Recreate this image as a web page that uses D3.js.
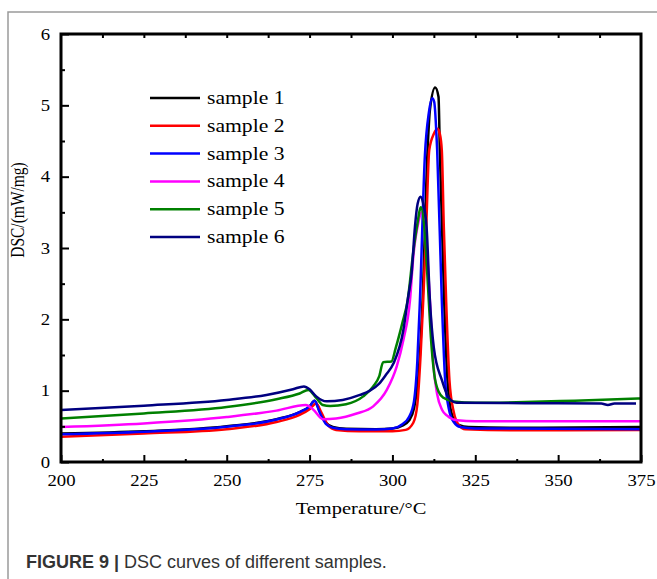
<!DOCTYPE html>
<html>
<head>
<meta charset="utf-8">
<script src="https://cdn.jsdelivr.net/npm/d3@7"></script>
<style>
  html, body { margin: 0; padding: 0; background: #fff; }
  svg { display: block; }
  .serif { font-family: "Liberation Serif", "Times New Roman", serif; fill: #000; }
</style>
</head>
<body>
<div id="chart"></div>
<script>
// DSC curves, [temperature °C, DSC mW/mg]
var sample1 = [[200,0.40],[225,0.43],[250,0.50],[265,0.60],[272,0.70],[275,0.78],[276.5,0.86],[278,0.72],[280,0.55],[282,0.49],[286,0.465],[295,0.46],[300,0.47],[303,0.51],[305,0.58],[306.5,0.75],[308,1.3],[309.1,2.27],[310.6,4.37],[311.3,4.93],[312.9,5.25],[313.9,5.12],[314.3,4.37],[315.6,2.27],[316.6,1.15],[318,0.66],[320,0.52],[323,0.49],[340,0.48],[375,0.49]];
var sample2 = [[200,0.355],[225,0.40],[250,0.46],[265,0.56],[272,0.66],[275,0.74],[277,0.82],[278.5,0.70],[280.5,0.52],[283,0.45],[290,0.43],[300,0.43],[304,0.45],[306.3,0.55],[307.5,0.8],[308.5,1.5],[309.3,2.27],[310.2,3.3],[311.1,4.37],[312.5,4.6],[313.6,4.67],[314.3,4.6],[314.9,4.37],[315.5,3.3],[316.2,2.27],[317.2,1.15],[318.5,0.7],[320,0.52],[322,0.46],[340,0.445],[375,0.45]];
var sample3 = [[200,0.39],[225,0.425],[250,0.495],[265,0.595],[272,0.70],[275,0.78],[276.5,0.86],[278,0.70],[280,0.53],[282,0.48],[286,0.46],[295,0.455],[300,0.47],[303,0.53],[305,0.63],[306.5,0.85],[307.5,1.4],[308.3,2.27],[309.8,4.3],[311,4.9],[312,5.1],[312.6,5.05],[313.5,4.37],[314.9,2.27],[315.9,1.15],[317,0.75],[318.5,0.56],[320.5,0.49],[325,0.47],[375,0.46]];
var sample4 = [[200,0.49],[225,0.54],[250,0.63],[265,0.72],[273.9,0.80],[276,0.74],[279.1,0.60],[283,0.61],[289.2,0.68],[294.2,0.78],[298.3,1.01],[301.3,1.34],[303.3,1.71],[305.3,2.27],[306.3,2.88],[307.8,3.35],[308.8,3.5],[310,3.2],[311.3,2.27],[312.3,1.4],[313.5,0.95],[315,0.73],[316.5,0.65],[319.5,0.585],[325,0.57],[375,0.57]];
var sample5 = [[200,0.61],[225,0.68],[250,0.77],[265,0.88],[272,0.96],[274.6,1.01],[277,0.90],[279,0.80],[281.2,0.785],[286,0.81],[291.2,0.92],[294.2,1.06],[296,1.2],[297.2,1.40],[299.7,1.41],[301,1.6],[303,1.95],[304.6,2.27],[306.3,2.95],[307.4,3.3],[308.6,3.57],[309.6,3.3],[310.8,2.4],[311.6,1.75],[312.6,1.24],[314,0.98],[315.4,0.9],[318.4,0.85],[325,0.83],[340,0.84],[355,0.86],[375,0.89]];
var sample6 = [[200,0.73],[225,0.79],[250,0.87],[262,0.94],[270,1.02],[273.3,1.06],[275,1.02],[277,0.92],[280.2,0.85],[285,0.87],[290.2,0.94],[293.2,1.0],[296,1.1],[298,1.22],[300.3,1.38],[303.3,1.85],[304.7,2.3],[305.8,2.65],[306.8,3.3],[307.6,3.62],[308.5,3.72],[309.3,3.62],[310.3,3.3],[311.3,2.27],[312.5,1.6],[314.9,1.15],[317,0.9],[319.4,0.83],[340,0.825],[363,0.82],[365,0.80],[367,0.82],[373.5,0.82]];

var series_names  = ['sample 1', 'sample 2', 'sample 3', 'sample 4', 'sample 5', 'sample 6'];
var series_data   = [sample1, sample2, sample3, sample4, sample5, sample6];
var series_colors = ['#000000', '#ff0000', '#0000ff', '#ff00ff', '#008000', '#000080'];

var x_ticks = [200, 225, 250, 275, 300, 325, 350, 375];
var y_ticks = [0, 1, 2, 3, 4, 5, 6];

// chart params
var width = 657, height = 579;
var plot_left = 61, plot_right = 641, plot_top = 34, plot_bottom = 462;
var stretch = 1.17; // the original figure is a bit wider than tall

var svg = d3.select('#chart')
    .append('svg')
    .attr('width', width)
    .attr('height', height);

// gray page frame (top and left)
svg.append('path')
    .attr('d', 'M8,' + height + 'V12H' + width)
    .attr('fill', 'none')
    .attr('stroke', '#9a9a9a')
    .attr('stroke-width', 1.5);

var x_scale = d3.scaleLinear().domain([200, 375]).range([plot_left, plot_right]);
var y_scale = d3.scaleLinear().domain([0, 6]).range([plot_bottom, plot_top]);

// curves
var line = d3.line()
    .x(function(d) { return x_scale(d[0]); })
    .y(function(d) { return y_scale(d[1]); })
    .curve(d3.curveMonotoneX);

svg.append('g')
    .selectAll('path')
    .data(series_data)
    .enter()
    .append('path')
    .attr('d', line)
    .attr('fill', 'none')
    .attr('stroke', function(d, i) { return series_colors[i]; })
    .attr('stroke-width', 2.5)
    .attr('stroke-linejoin', 'round');

// axes: major ticks inside, minor ticks in between
var x_axis = svg.append('g')
    .attr('transform', 'translate(0,' + plot_bottom + ')')
    .call(d3.axisBottom(x_scale).tickValues(x_ticks).tickSizeInner(-7).tickSizeOuter(0).tickPadding(12.6));

svg.append('g')
    .attr('transform', 'translate(0,' + plot_bottom + ')')
    .call(d3.axisBottom(x_scale).tickValues(d3.range(212.5, 375, 25)).tickSizeInner(-3).tickSizeOuter(0).tickFormat(''));

svg.append('g')
    .attr('transform', 'translate(0,' + plot_top + ')')
    .call(d3.axisTop(x_scale).tickValues(d3.range(212.5, 375, 12.5)).tickSizeInner(-4).tickSizeOuter(0).tickFormat(''));

var y_axis = svg.append('g')
    .attr('transform', 'translate(' + plot_left + ',0)')
    .call(d3.axisLeft(y_scale).tickValues(y_ticks).tickFormat(d3.format('d')).tickSizeInner(-8).tickSizeOuter(0).tickPadding(11));

svg.append('g')
    .attr('transform', 'translate(' + plot_left + ',0)')
    .call(d3.axisLeft(y_scale).tickValues(d3.range(0.5, 6, 1)).tickSizeInner(-4).tickSizeOuter(0).tickFormat(''));

svg.selectAll('.domain').remove();
svg.selectAll('.tick line').attr('stroke', '#000').attr('stroke-width', 2);

x_axis.selectAll('text')
    .attr('class', 'serif')
    .attr('font-size', 16)
    .attr('transform', 'scale(' + stretch + ',1)');

y_axis.selectAll('text')
    .attr('class', 'serif')
    .attr('font-size', 16)
    .attr('x', -11 / stretch)
    .attr('transform', 'scale(' + stretch + ',1)');

// plot frame
svg.append('rect')
    .attr('x', plot_left)
    .attr('y', plot_top)
    .attr('width', plot_right - plot_left)
    .attr('height', plot_bottom - plot_top)
    .attr('fill', 'none')
    .attr('stroke', '#000')
    .attr('stroke-width', 3);

// axis titles
svg.append('text')
    .attr('class', 'serif')
    .attr('font-size', 17.5)
    .attr('text-anchor', 'middle')
    .attr('transform', 'translate(361,514) scale(' + stretch + ',1)')
    .text('Temperature/°C');

svg.append('text')
    .attr('class', 'serif')
    .attr('font-size', 15.5)
    .attr('text-anchor', 'middle')
    .attr('transform', 'translate(24,210) scale(' + stretch + ',1) rotate(-90)')
    .text('DSC/(mW/mg)');

// legend
var legend = svg.append('g');
series_names.forEach(function(name, i) {
    var y = 98 + i * 27.8;
    legend.append('line')
        .attr('x1', 150).attr('x2', 200)
        .attr('y1', y).attr('y2', y)
        .attr('stroke', series_colors[i])
        .attr('stroke-width', 2.5);
    legend.append('text')
        .attr('class', 'serif')
        .attr('font-size', 18.5)
        .attr('transform', 'translate(207,' + (y + 6) + ') scale(' + stretch + ',1)')
        .text(name);
});

// caption
var caption = svg.append('text')
    .attr('x', 26)
    .attr('y', 568)
    .attr('font-family', '"Liberation Sans", Arial, sans-serif')
    .attr('font-size', 18)
    .attr('fill', '#333');
caption.append('tspan').attr('font-weight', 'bold').text('FIGURE 9 | ');
caption.append('tspan').text('DSC curves of different samples.');
</script>
</body>
</html>
